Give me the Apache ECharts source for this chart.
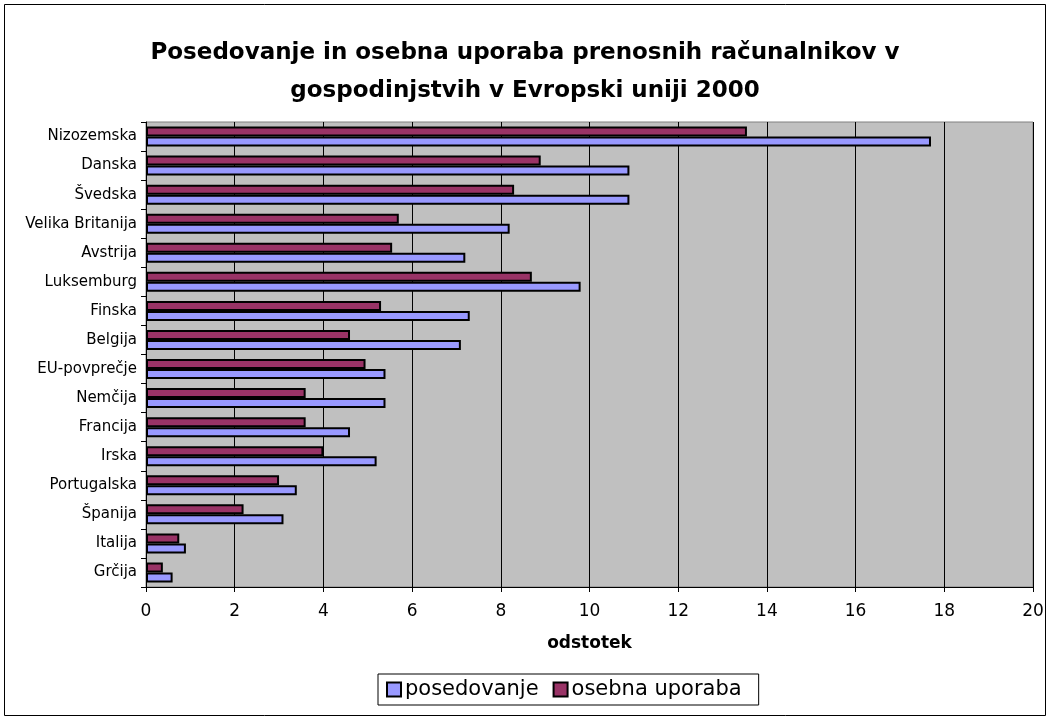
<!DOCTYPE html>
<html><head><meta charset="utf-8">
<script src="https://cdn.jsdelivr.net/npm/echarts@6/dist/echarts.min.js"></script>
<style>html,body{margin:0;padding:0;background:#fff}#c{width:1050px;height:720px}</style>
</head><body><div id="c"></div>
<script>
var categories = ["Nizozemska","Danska","Švedska","Velika Britanija","Avstrija","Luksemburg","Finska","Belgija","EU-povprečje","Nemčija","Francija","Irska","Portugalska","Španija","Italija","Grčija"];
var posedovanje = [17.7,10.9,10.9,8.2,7.2,9.8,7.3,7.1,5.4,5.4,4.6,5.2,3.4,3.1,0.9,0.6];
var osebnaUporaba = [13.55,8.9,8.3,5.7,5.55,8.7,5.3,4.6,4.95,3.6,3.6,4.0,3.0,2.2,0.75,0.38];
var xTicks = [0,2,4,6,8,10,12,14,16,18,20];

var chart = echarts.init(document.getElementById('c'));
var font = 'DejaVu Sans, sans-serif';
chart.setOption({
  animation: false,
  backgroundColor: '#fff',
  title: {
    text: 'Posedovanje in osebna uporaba prenosnih računalnikov v\ngospodinjstvih v Evropski uniji 2000',
    left: 'center', top: 29,
    textStyle: {fontFamily: font, fontSize: 23, fontWeight: 'bold', color: '#000', lineHeight: 38}
  },
  graphic: [{type:'rect', shape:{x:4.5,y:4.5,width:1041,height:711}, style:{fill:null, stroke:'#000', lineWidth:1}, z:-1}],
  legend: {
    data: ['posedovanje','osebna uporaba'],
    left: 378, top: 674,
    borderColor: '#000', borderWidth: 1, padding: [5,17,5,8],
    itemWidth: 14, itemHeight: 14, itemGap: 14,
    icon: 'rect',
    itemStyle: {borderColor: '#000', borderWidth: 2},
    textStyle: {fontFamily: font, fontSize: 21, color: '#000', padding:[0,0,0,-1]}
  },
  grid: {left: 146, right: 17, top: 122, bottom: 133, show: true, backgroundColor: '#C0C0C0', borderColor: '#808080', borderWidth: 1},
  xAxis: {
    type: 'value', min: 0, max: 20, interval: 2,
    name: 'odstotek', nameLocation: 'middle', nameGap: 48,
    nameTextStyle: {fontFamily: font, fontSize: 17, fontWeight: 'bold', color: '#000'},
    axisLine: {show: true, lineStyle: {color: '#000'}},
    axisTick: {show: true, length: 5, lineStyle: {color: '#000'}},
    axisLabel: {fontFamily: font, fontSize: 17, color: '#000', margin: 16,
      formatter: function(v){ return xTicks.indexOf(v) >= 0 ? String(v) : ''; }},
    splitLine: {show: true, lineStyle: {color: '#000', width: 1}}
  },
  yAxis: {
    type: 'category', data: categories, inverse: true,
    axisLine: {show: true, lineStyle: {color: '#000'}},
    axisTick: {show: true, length: 5, lineStyle: {color: '#000'}},
    axisLabel: {fontFamily: font, fontSize: 15, color: '#000', margin: 9}
  },
  series: [
    {name: 'osebna uporaba', type: 'bar', data: osebnaUporaba, barGap: '0%', barCategoryGap: '31%',
     itemStyle: {color: '#993366', borderColor: '#000', borderWidth: 2}},
    {name: 'posedovanje', type: 'bar', data: posedovanje, barGap: '0%', barCategoryGap: '31%',
     itemStyle: {color: '#9999FF', borderColor: '#000', borderWidth: 2}}
  ]
});
</script></body></html>
